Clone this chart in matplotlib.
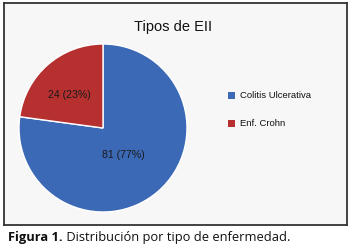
import matplotlib
matplotlib.use("Agg")
import matplotlib.pyplot as plt
from matplotlib.patches import Rectangle

categories = ["Colitis Ulcerativa", "Enf. Crohn"]
values = [81, 24]
percents = [77, 23]
colors = ["#3b69b5", "#b5302f"]
title = "Tipos de EII"
caption_bold = "Figura 1."
caption_rest = " Distribución por tipo de enfermedad."

font = "Liberation Sans"

W, H = 350, 250
fig = plt.figure(figsize=(3.5, 2.5), dpi=100)
fig.patch.set_facecolor("white")

# framed chart area
frame = fig.add_axes([3.5 / W, 1 - 225 / H, 343 / W, 222 / H], zorder=-5)
frame.set_facecolor("#f7f7f7")
frame.set_xticks([]); frame.set_yticks([])
for s in frame.spines.values():
    s.set_color("#333333"); s.set_linewidth(1.3)

# pie axes: center (103,128), radius 84 px
cx, cy, r = 103, 128, 84
ax = fig.add_axes([(cx - r) / W, 1 - (cy + r) / H, 2 * r / W, 2 * r / H], zorder=1)
wedges, _ = ax.pie(values, colors=colors, startangle=90, counterclock=False,
                   radius=1.0, wedgeprops=dict(edgecolor="white", linewidth=1.0))
ax.set_xlim(-1.0, 1.0)
ax.set_ylim(-1.0, 1.0)
ax.set_aspect("equal")
ax.axis("off")

lab_pos = [(123, 155), (69, 95)]
for (px, py), v, p in zip(lab_pos, values, percents):
    fig.text(px / W, 1 - py / H, f"{v} ({p}%)", ha="center", va="center",
             fontsize=7.6, family=font, color="#1a1a1a", zorder=5)

fig.text(173 / W, 1 - 27 / H, title, ha="center", va="center",
         fontsize=10.5, family=font, color="#111111")

# legend
leg_y = [95, 123]
for y, c, name in zip(leg_y, colors, categories):
    fig.patches.append(Rectangle((228 / W, 1 - (y + 3.5) / H), 7 / W, 7 / H,
                                 transform=fig.transFigure, facecolor=c,
                                 edgecolor="none", zorder=5))
    fig.text(240 / W, 1 - y / H, name, ha="left", va="center",
             fontsize=6.8, family=font, color="#111111")

t = fig.text(8 / W, 1 - 238 / H, caption_bold, ha="left", va="center",
             fontsize=9.3, family="Open Sans", fontweight="bold", color="#111111")
fig.canvas.draw()
bb = t.get_window_extent()
fig.text(bb.x1 / W, 1 - 238 / H, caption_rest, ha="left", va="center",
         fontsize=9.3, family="Open Sans", color="#111111")

fig.savefig("out.png", dpi=100, facecolor="white")
